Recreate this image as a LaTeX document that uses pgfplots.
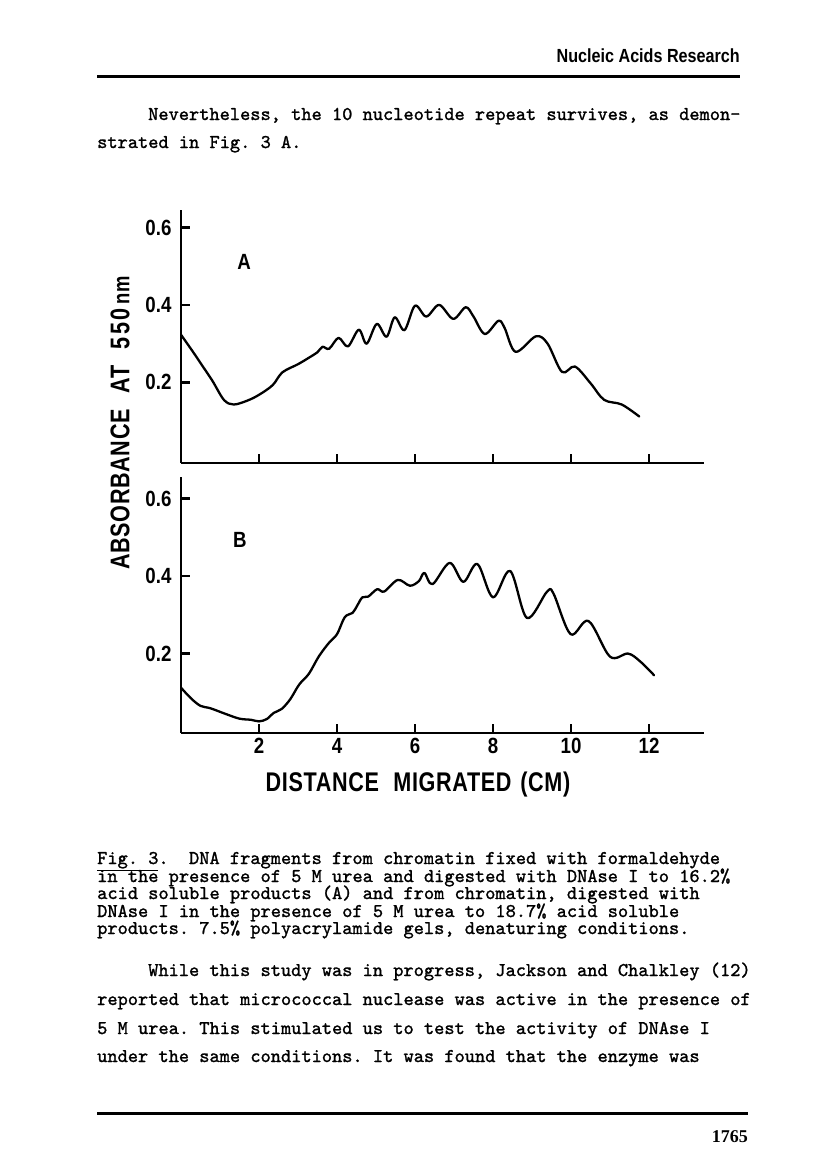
\documentclass[border=0pt]{standalone}
\usepackage{fontspec}
\setsansfont{Liberation Sans}
\newfontfamily\hdfont{Liberation Sans}
\newfontfamily\pnfont{Liberation Serif}
\newfontfamily\twfont{lmmono10-regular.otf}[FakeBold=1.3]
\usepackage{graphicx}
\usepackage{pgfplots}
\pgfplotsset{compat=1.18}
\newcommand\tw{\twfont\fontsize{19.45}{19.45}\selectfont}
\newcommand\tl[1]{\scalebox{0.85}[1]{\sffamily\bfseries\fontsize{22}{22}\selectfont #1}}
\newcommand\lab[1]{\scalebox{0.8}[1]{\sffamily\bfseries\fontsize{27}{27}\selectfont\addfontfeature{LetterSpace=3} #1}}
\pgfplotsset{panel/.style={
  scale only axis, width=522.6pt, xmin=0, xmax=13.4,
  axis x line*=bottom, axis y line*=left,
  axis line style={-, line width=2.4pt, black},
  tick align=inside, major tick length=9pt,
  tick style={line width=2.2pt, black},
  xtick={2,4,6,8,10,12}, ytick={0.2,0.4,0.6},
  yticklabels={\tl{0.2},\tl{0.4},\tl{0.6}},
  yticklabel style={xshift=-6pt},
  clip=false}}
\begin{document}
\frenchspacing
\begin{tikzpicture}[x=1pt,y=1pt]
\fill[white] (0,0) rectangle (816,-1159);
\path[use as bounding box] (0,0) rectangle (816,-1159);
% header
\node[anchor=base east, inner sep=0] at (740,-62) {\scalebox{0.85}[1]{\hdfont\bfseries\fontsize{19}{19}\selectfont Nucleic Acids Research}};
\draw[line width=3pt] (97,-76) -- (740,-76);
\node[anchor=base west, inner sep=0, font=\tw] at (148,-120) {Nevertheless, the 10 nucleotide repeat survives, as demon-};
\node[anchor=base west, inner sep=0, font=\tw] at (97,-148) {strated in Fig. 3 A.};
% panel A
\begin{axis}[panel, at={(181pt,-463pt)}, anchor=south west,
  ymin=-0.008, ymax=0.645, height=253pt, xticklabels={}]
\addplot[black, line width=2.3pt, smooth, tension=0.55, line join=round, line cap=round] coordinates {
(0,0.323) (0.3,0.28) (0.5,0.25) (0.8,0.205) (1.1,0.155) (1.35,0.143)
(1.7,0.153) (2.0,0.168) (2.35,0.193) (2.6,0.226) (3.0,0.247) (3.3,0.265)
(3.5,0.278) (3.63,0.292) (3.8,0.287) (4.04,0.315) (4.28,0.293) (4.56,0.336)
(4.76,0.300) (5.02,0.351) (5.27,0.318) (5.48,0.368) (5.73,0.335) (6.0,0.398)
(6.29,0.370) (6.62,0.400) (6.98,0.364) (7.3,0.394) (7.5,0.37) (7.79,0.325)
(8.14,0.359) (8.3,0.34) (8.58,0.279) (9.1,0.319) (9.4,0.300) (9.77,0.227)
(10.1,0.241) (10.5,0.198) (10.85,0.155) (11.3,0.143) (11.75,0.112)};
\node at (axis cs:1.62,0.511) {\tl{A}};
\end{axis}
% panel B
\begin{axis}[panel, at={(181pt,-733pt)}, anchor=south west,
  ymin=-0.005, ymax=0.655, height=255.8pt,
  xticklabels={\tl{2},\tl{4},\tl{6},\tl{8},\tl{10},\tl{12}},
  xticklabel style={yshift=-2pt}]
\addplot[black, line width=2.3pt, smooth, tension=0.55, line join=round, line cap=round] coordinates {
(0,0.112) (0.25,0.085) (0.5,0.065) (0.75,0.059) (1.15,0.044) (1.5,0.032)
(1.8,0.029) (2.0,0.025) (2.2,0.031) (2.38,0.047) (2.58,0.057) (2.8,0.082)
(3.03,0.12) (3.28,0.148) (3.53,0.192) (3.78,0.226) (4.0,0.250) (4.2,0.294)
(4.4,0.305) (4.52,0.324) (4.65,0.345) (4.8,0.347) (5.03,0.366) (5.21,0.360)
(5.56,0.390) (5.87,0.375) (6.1,0.387) (6.24,0.408) (6.45,0.379) (6.89,0.434)
(7.24,0.385) (7.6,0.431) (8.0,0.345) (8.44,0.413) (8.87,0.292) (9.38,0.359)
(9.55,0.355) (9.99,0.250) (10.45,0.284) (11.0,0.192) (11.46,0.200) (11.77,0.180)
(12.13,0.144)};
\node at (axis cs:1.51,0.493) {\tl{B}};
\end{axis}
% axis titles
\node[rotate=90, inner sep=0] at (120,-423) {\lab{ABSORBANCE\hspace{20pt}AT\hspace{20pt}5\kern3pt5\kern3pt0\kern5pt{\fontsize{23}{23}\selectfont nm}}};
\node[inner sep=0] at (418,-785) {\lab{DISTANCE\hspace{18pt}MIGRATED\hspace{11pt}(CM)}};
% caption
\node[anchor=base west, inner sep=0, font=\tw] at (97,-864) {\underline{Fig. 3}.~~DNA fragments from chromatin fixed with formaldehyde};
\node[anchor=base west, inner sep=0, font=\tw] at (97,-882) {in the presence of 5 M urea and digested with DNAse I to 16.2\%};
\node[anchor=base west, inner sep=0, font=\tw] at (97,-899) {acid soluble products (A) and from chromatin, digested with};
\node[anchor=base west, inner sep=0, font=\tw] at (97,-917) {DNAse I in the presence of 5 M urea to 18.7\% acid soluble};
\node[anchor=base west, inner sep=0, font=\tw] at (97,-934) {products. 7.5\% polyacrylamide gels, denaturing conditions.};
% body
\node[anchor=base west, inner sep=0, font=\tw] at (148,-976) {While this study was in progress, Jackson and Chalkley (12)};
\node[anchor=base west, inner sep=0, font=\tw] at (97,-1005) {reported that micrococcal nuclease was active in the presence of};
\node[anchor=base west, inner sep=0, font=\tw] at (97,-1034) {5 M urea. This stimulated us to test the activity of DNAse I};
\node[anchor=base west, inner sep=0, font=\tw] at (97,-1062) {under the same conditions. It was found that the enzyme was};
\draw[line width=3pt] (97,-1113) -- (748,-1113);
\node[anchor=base east, inner sep=0] at (748,-1142) {\pnfont\bfseries\fontsize{18}{18}\selectfont 1765};
\end{tikzpicture}
\end{document}
